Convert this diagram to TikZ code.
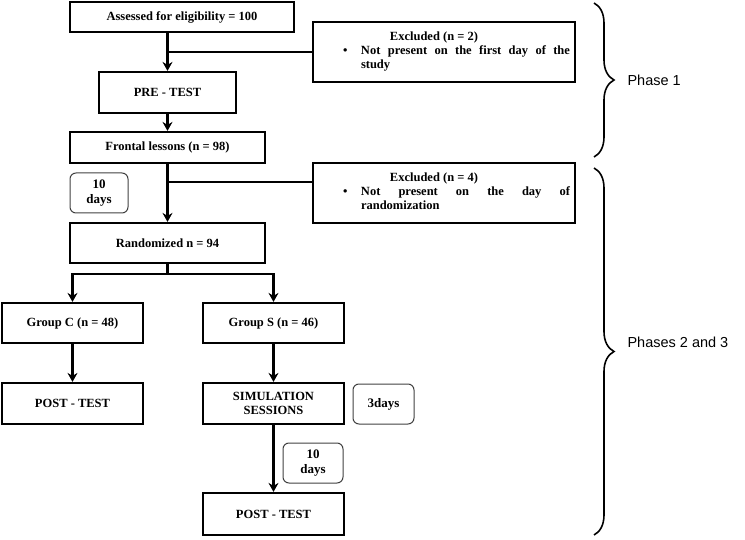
\documentclass[tikz,border=0pt]{standalone}
\usepackage{fontspec}
\setmainfont{Liberation Serif}
\newfontfamily\phasefont{Liberation Sans}
\usetikzlibrary{arrows.meta,decorations.pathreplacing}

\begin{document}
\begin{tikzpicture}[x=1pt,y=-1pt,>={Stealth[length=9pt,width=10pt,inset=3pt]},
    box/.style={draw,line width=2.2pt,align=center,inner sep=2pt,font=\bfseries\fontsize{12.5}{14}\selectfont},
    daybox/.style={draw=black!75,line width=1pt,rounded corners=6pt,align=center,inner sep=2pt,font=\bfseries\fontsize{13}{15}\selectfont},
    exclbox/.style={draw,line width=2.2pt,minimum width=262pt,minimum height=60pt,inner sep=0pt,align=center,font=\bfseries\fontsize{12.5}{14}\selectfont},
    conn/.style={line width=2.2pt},
    phase/.style={decorate,decoration={brace,amplitude=20pt},line width=1.6pt},
    phasetext/.style={anchor=west,font=\phasefont\fontsize{14.5}{17}\selectfont}]
    \useasboundingbox (0,0) rectangle (745,540);

    % main column
    \node[box,minimum width=224pt,minimum height=30pt] (elig) at (182,17) {Assessed for eligibility = 100};
    \node[box,minimum width=137pt,minimum height=41pt] (pre) at (167.5,92.5) {PRE - TEST};
    \node[box,minimum width=195pt,minimum height=31pt] (frontal) at (167.5,147.5) {Frontal lessons (n = 98)};
    \node[box,minimum width=195pt,minimum height=40pt] (rand) at (167.5,243) {Randomized n = 94};

    % excluded
    \node[exclbox] (exclone) at (444,52) {\begin{tabular}{@{}p{43pt}@{}p{209pt}@{}}
        \multicolumn{2}{@{}c@{\hspace{20pt}}}{Excluded (n = 2)}\\
        \hspace*{25pt}\textbullet & Not present on the first day of the\linebreak study
        \end{tabular}};
    \node[exclbox] (excltwo) at (444,193) {\begin{tabular}{@{}p{43pt}@{}p{209pt}@{}}
        \multicolumn{2}{@{}c@{\hspace{20pt}}}{Excluded (n = 4)}\\
        \hspace*{25pt}\textbullet & Not present on the day of\linebreak randomization
        \end{tabular}};

    % groups
    \node[box,minimum width=141pt,minimum height=40pt] (groupC) at (72.5,323) {Group C (n = 48)};
    \node[box,minimum width=141pt,minimum height=40pt] (groupS) at (273.5,323) {Group S (n = 46)};
    \node[box,minimum width=141pt,minimum height=41pt] (postC) at (72.5,403.5) {POST - TEST};
    \node[box,minimum width=141pt,minimum height=41pt] (sim) at (273.5,403.5) {SIMULATION\\SESSIONS};
    \node[box,minimum width=141pt,minimum height=42pt] (postS) at (273.5,514) {POST - TEST};

    % days
    \node[daybox,minimum width=58pt,minimum height=40pt] (daysone) at (99,193) {10\\days};
    \node[daybox,minimum width=61pt,minimum height=40pt] (daysthree) at (383.5,404) {3days};
    \node[daybox,minimum width=60pt,minimum height=40pt] (daystwo) at (313,463) {10\\days};

    % arrows
    \draw[conn,->] (elig.south -| pre.north) -- (pre.north);
    \draw[conn] (exclone.west -| pre.north) -- (exclone.west);
    \draw[conn,->] (pre) -- (frontal);
    \draw[conn,->] (frontal) -- (rand);
    \coordinate (cut) at (167.5,182);
    \draw[conn] (cut) -- (cut -| excltwo.west);
    \draw[conn] (rand.south) -- ++(0,10) coordinate (split);
    \draw[conn,->] (split) -| (groupC.north);
    \draw[conn,->] (split) -| (groupS.north);
    \draw[conn,->] (groupC) -- (postC);
    \draw[conn,->] (groupS) -- (sim);
    \draw[conn,->] (sim) -- (postS);

    % phases
    \draw[phase] (594,3) -- (594,157);
    \node[phasetext] (phaseone) at (624,80) {Phase 1};
    \draw[phase] (594,168) -- (594,535);
    \node[phasetext] (phasetwo) at (624,342) {Phases 2 and 3};
\end{tikzpicture}
\end{document}
